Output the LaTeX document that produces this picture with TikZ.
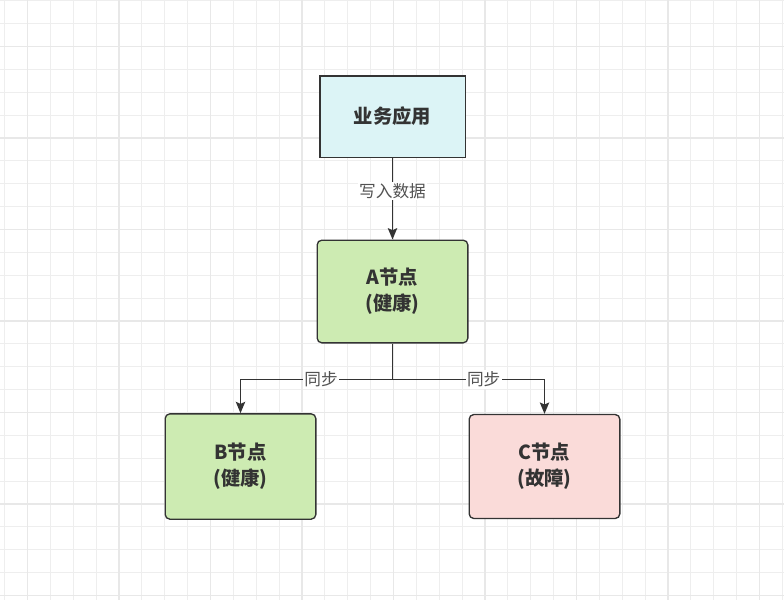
\documentclass[tikz,border=0pt]{standalone}
\usepackage{fontspec}
\setmainfont{Noto Sans CJK SC}
\usetikzlibrary{arrows.meta, positioning, calc}

\definecolor{gridminor}{RGB}{238,238,238}
\definecolor{gridmajor}{RGB}{232,232,232}
\definecolor{edgegray}{RGB}{51,51,51}
\definecolor{appfill}{RGB}{220,244,246}
\definecolor{okfill}{RGB}{205,235,178}
\definecolor{badfill}{RGB}{250,219,217}

\begin{document}
\begin{tikzpicture}[>=Stealth, x=0.75pt, y=-0.75pt,
    box/.style={draw=edgegray, line width=1pt, align=center,
                font=\fontsize{14.5}{19.5}\selectfont\bfseries, text=edgegray,
                inner sep=0pt},
    okbox/.style={box, fill=okfill, rounded corners=3.5pt,
                  minimum width=113pt, minimum height=77pt},
    badbox/.style={box, fill=badfill, rounded corners=3.5pt,
                   minimum width=113pt, minimum height=78pt},
    link/.style={draw=edgegray, line width=1.1pt,
                 -{Stealth[length=8.5pt, width=7pt, inset=1.5pt]}},
    lbl/.style={fill=white, inner sep=1pt, text=edgegray!85,
                font=\fontsize{12.5}{15}\selectfont}]
  \useasboundingbox (0,0) rectangle (784,600);

  % Grid
  \foreach \i in {0,...,34}
    \draw[gridminor, line width=0.9pt] ({4.6+22.875*\i},0) -- ({4.6+22.875*\i},600);
  \foreach \i in {0,...,26}
    \draw[gridminor, line width=0.9pt] (0,{0.75+22.875*\i}) -- (784,{0.75+22.875*\i});
  \foreach \i in {0,...,8}
    \draw[gridmajor, line width=0.9pt] ({27.5+91.5*\i},0) -- ({27.5+91.5*\i},600);
  \foreach \i in {0,...,6}
    \draw[gridmajor, line width=0.9pt] (0,{46.5+91.5*\i}) -- (784,{46.5+91.5*\i});

  % Nodes
  \node[box, fill=appfill, minimum width=109pt, minimum height=61pt]
    (app) at (392.5,116.5) {业务应用};
  \node[okbox] (nodeA) at (392.5,291.5) {A节点\\(健康)};
  \node[okbox, minimum height=79pt] (nodeB) at (240.5,466.5) {B节点\\(健康)};
  \node[badbox] (nodeC) at (544.5,466.5) {C节点\\(故障)};

  % Edges
  \coordinate (split) at ($(nodeA.south)+(0,36)$);
  \draw[link] (app) -- node[lbl, pos=0.41] {写入数据} (nodeA);
  \draw[link] (nodeA.south) -- (split) -| node[lbl, pos=0.235] {同步} (nodeB.north);
  \draw[link] (nodeA.south) -- (split) -| node[lbl, pos=0.3] {同步} (nodeC.north);
\end{tikzpicture}
\end{document}
